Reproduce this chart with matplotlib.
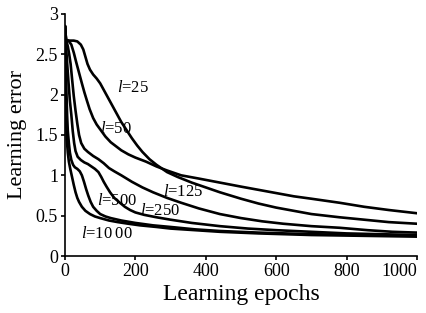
import matplotlib
matplotlib.use("Agg")
import matplotlib.pyplot as plt

plt.rcParams['font.family'] = ['Liberation Serif', 'DejaVu Serif']
plt.rcParams['mathtext.fontset'] = 'custom'
plt.rcParams['mathtext.it'] = 'Liberation Serif:italic'
plt.rcParams['mathtext.rm'] = 'Liberation Serif'

# curves: epochs and learning error for each hidden size l
ep_25 = [0, 3, 10, 25, 35, 45, 52, 58, 64, 71, 80, 90, 100, 110, 120, 130, 145, 160, 175, 190,
         205, 220, 240, 260, 290, 320, 360, 400, 440, 500, 550, 600, 650, 700, 780, 850, 920, 1000]
err_25 = [2.85, 2.68, 2.67, 2.67, 2.66, 2.62, 2.56, 2.47, 2.38, 2.31, 2.25, 2.2, 2.14, 2.06, 1.98, 1.9,
          1.78, 1.66, 1.56, 1.46, 1.37, 1.29, 1.2, 1.13, 1.04, 0.98, 0.91, 0.85, 0.79, 0.71, 0.65, 0.6,
          0.56, 0.52, 0.48, 0.45, 0.42, 0.40]

ep_50 = [0, 3, 10, 18, 25, 32, 40, 48, 55, 62, 70, 80, 90, 100, 115, 130, 145, 160, 180, 200, 230,
         260, 290, 330, 380, 440, 500, 550, 600, 650, 700, 780, 850, 920, 1000]
err_50 = [2.85, 2.68, 2.67, 2.62, 2.52, 2.4, 2.27, 2.14, 2.03, 1.93, 1.82, 1.71, 1.63, 1.57, 1.48, 1.41,
          1.36, 1.31, 1.26, 1.22, 1.17, 1.11, 1.06, 1.0, 0.96, 0.91, 0.86, 0.82, 0.78, 0.74, 0.71, 0.66,
          0.61, 0.57, 0.53]

ep_125 = [0, 3, 8, 12, 16, 20, 25, 30, 35, 40, 46, 55, 65, 80, 95, 110, 125, 140, 160, 190, 220, 250,
          290, 330, 380, 440, 500, 560, 620, 700, 780, 860, 930, 1000]
err_125 = [2.85, 2.68, 2.6, 2.5, 2.38, 2.2, 1.98, 1.8, 1.64, 1.5, 1.4, 1.33, 1.29, 1.24, 1.2, 1.15, 1.09,
           1.05, 1.0, 0.92, 0.85, 0.79, 0.72, 0.66, 0.59, 0.52, 0.47, 0.43, 0.40, 0.37, 0.35, 0.32, 0.30, 0.29]

ep_250 = [0, 3, 6, 10, 14, 18, 22, 26, 30, 36, 45, 55, 65, 75, 85, 95, 103, 110, 118, 128, 140, 156,
          170, 185, 200, 225, 260, 300, 360, 440, 520, 600, 700, 800, 900, 1000]
err_250 = [2.85, 2.6, 2.4, 2.15, 1.92, 1.75, 1.55, 1.4, 1.3, 1.23, 1.19, 1.16, 1.14, 1.11, 1.08, 1.04,
           0.98, 0.92, 0.86, 0.79, 0.72, 0.66, 0.61, 0.57, 0.54, 0.51, 0.48, 0.45, 0.41, 0.37, 0.34, 0.32,
           0.30, 0.28, 0.27, 0.26]

ep_500 = [0, 2, 4, 6, 8, 11, 14, 18, 23, 28, 35, 42, 48, 54, 60, 66, 73, 80, 90, 100, 115, 130, 160,
          200, 250, 300, 370, 440, 550, 700, 850, 1000]
err_500 = [2.85, 2.45, 2.05, 1.75, 1.55, 1.4, 1.28, 1.19, 1.13, 1.1, 1.08, 1.05, 1.0, 0.92, 0.83, 0.75,
           0.67, 0.61, 0.56, 0.52, 0.49, 0.47, 0.44, 0.41, 0.38, 0.36, 0.33, 0.31, 0.29, 0.27, 0.26, 0.25]

ep_1000 = [0, 1, 2, 3, 5, 8, 11, 15, 20, 25, 30, 35, 40, 48, 58, 71, 85, 100, 125, 150, 180, 213, 260,
           300, 370, 440, 550, 700, 850, 1000]
err_1000 = [2.85, 2.4, 2.0, 1.7, 1.45, 1.28, 1.17, 1.08, 0.98, 0.88, 0.79, 0.72, 0.67, 0.61, 0.56, 0.52,
            0.49, 0.47, 0.44, 0.42, 0.40, 0.38, 0.36, 0.34, 0.32, 0.30, 0.28, 0.26, 0.25, 0.24]

curves = [(ep_25, err_25), (ep_50, err_50), (ep_125, err_125),
          (ep_250, err_250), (ep_500, err_500), (ep_1000, err_1000)]

# label text and lower-left corner of each label (epoch, error)
labels = ['25', '50', '125', '250', '500', '10\u200900']
label_pos = [(148, 1.98), (100, 1.48), (278, 0.70), (213, 0.46), (91, 0.58), (45, 0.17)]

fig = plt.figure(figsize=(4.27, 3.13), dpi=100)
ax = fig.add_axes([0.1522, 0.1821, 0.8244, 0.7732])

for ep, err in curves:
    ax.plot(ep, err, color='black', lw=1.9, solid_joinstyle='round', solid_capstyle='round')

for txt, (x, y) in zip(labels, label_pos):
    ax.text(x, y, r'$l$=' + txt, fontsize=12, ha='left', va='bottom')

ax.set_xlim(0, 1000)
ax.set_ylim(0, 3)
ax.set_xticks([0, 200, 400, 600, 800, 1000])
ax.set_yticks([0, 0.5, 1, 1.5, 2, 2.5, 3])
ax.set_yticklabels(['0', '0.5', '1', '1.5', '2', '2.5', '3'])
ax.spines['top'].set_visible(False)
ax.spines['right'].set_visible(False)
ax.spines['left'].set_linewidth(1.2)
ax.spines['bottom'].set_linewidth(1.2)
ax.tick_params(direction='out', length=3, width=1.2, labelsize=13, pad=2)
ax.get_xticklabels()[-1].set_horizontalalignment('right')

ax.set_xlabel('Learning epochs', fontsize=17, labelpad=3)
ax.set_ylabel('Learning error', fontsize=16, labelpad=6)

fig.savefig('out.png', dpi=100)
